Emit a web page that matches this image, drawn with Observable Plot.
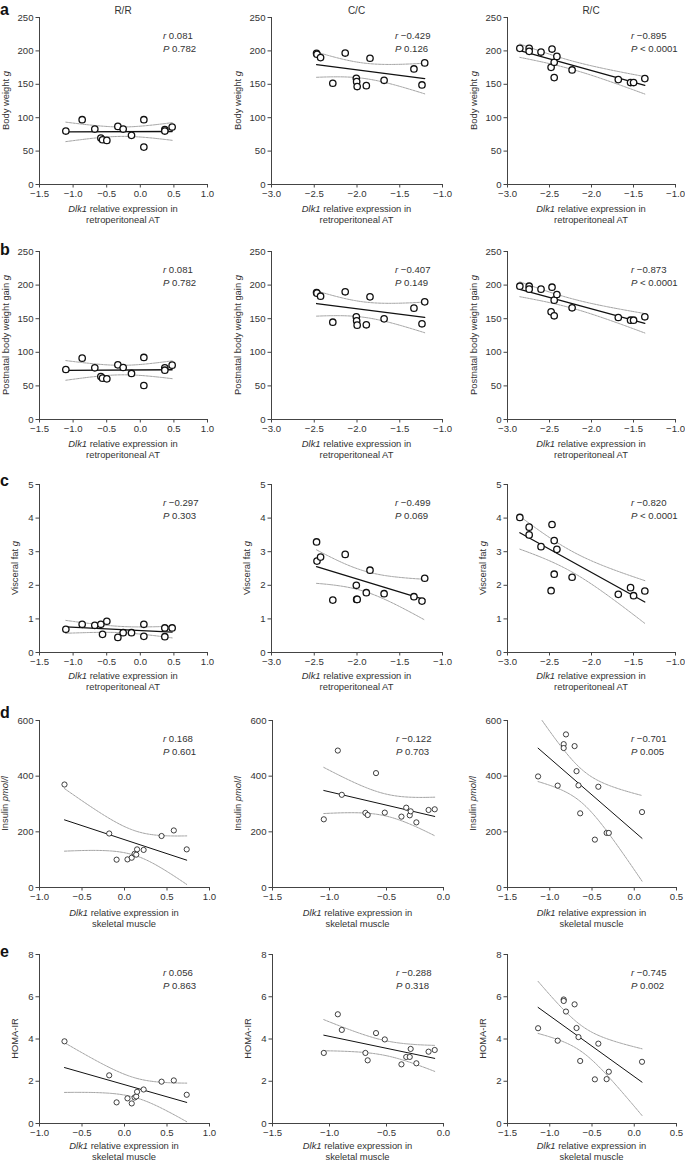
<!DOCTYPE html>
<html><head><meta charset="utf-8">
<script src="https://cdn.jsdelivr.net/npm/d3@7"></script>
<script src="https://cdn.jsdelivr.net/npm/@observablehq/plot@0.6"></script>
<style>
body{margin:0;background:#fff;}
#fig{position:relative;width:685px;height:1163px;font-family:"Liberation Sans",Arial,Helvetica,sans-serif;color:#333;overflow:hidden;background:#fff}
#fig svg{position:absolute;overflow:visible}
</style></head><body><div id="fig"></div>
<script>
// ---------- data ----------
const groups = ["R/R", "C/C", "R/C"];
const panelLetters = ["a", "b", "c", "d", "e"];

// Dlk1 relative expression in retroperitoneal AT (rows a–c)
const rrAT = [-1.108, -0.865, -0.677, -0.587, -0.562, -0.498, -0.334, -0.255, -0.131, 0.053, 0.053, 0.365, 0.365, 0.474];
const ccAT = [-2.473, -2.468, -2.426, -2.283, -2.138, -2.008, -2.004, -1.998, -1.891, -1.848, -1.683, -1.334, -1.240, -1.208];
const rcAT = [-2.853, -2.742, -2.742, -2.601, -2.470, -2.481, -2.444, -2.412, -2.444, -2.231, -1.681, -1.535, -1.499, -1.365];

const bodyWeightRR = [80, 97, 83, 69.6, 67, 66, 87, 83, 73.6, 97, 56, 82, 80, 86];
const bodyWeightCC = [196.3, 195, 190, 151.6, 196.8, 159, 154, 146.6, 148, 189, 156, 173, 149, 182];
const bodyWeightRC = [203.8, 203.8, 199.3, 198.3, 202.8, 175.4, 182.9, 191.8, 160, 171.5, 157, 152.6, 152.6, 158.5];

const weightGainRR = [74.4, 91.3, 76.9, 64, 61.5, 60.5, 81.3, 77.4, 68.5, 92.3, 50.6, 76.9, 73.4, 80.9];
const weightGainCC = [189, 188, 183.5, 144.8, 190, 152.8, 146.8, 140.4, 140.9, 182.5, 149.8, 165.7, 142.4, 175.1];
const weightGainRC = [198.4, 198.4, 194, 194, 196.9, 160.2, 177.6, 186, 154.3, 166.2, 151.8, 147.8, 147.8, 152.8];

const visceralFatRR = [0.69, 0.84, 0.81, 0.84, 0.54, 0.93, 0.45, 0.59, 0.59, 0.84, 0.48, 0.73, 0.47, 0.73];
const visceralFatCC = [3.29, 2.72, 2.84, 1.56, 2.92, 2.00, 1.58, 1.58, 1.78, 2.45, 1.75, 1.66, 1.53, 2.21];
const visceralFatRC = [4.02, 3.73, 3.50, 3.15, 3.81, 1.84, 3.33, 3.07, 2.33, 2.24, 1.73, 1.93, 1.69, 1.83];

// Dlk1 relative expression in skeletal muscle (rows d–e)
const rrSM = [-0.706, -0.18, -0.093, 0.035, 0.085, 0.119, 0.138, 0.148, 0.225, 0.436, 0.58, 0.732];
const ccSM = [-1.05, -0.927, -0.892, -0.685, -0.665, -0.592, -0.515, -0.369, -0.327, -0.296, -0.288, -0.238, -0.131, -0.077];
const rcSM = [-1.138, -0.906, -0.835, -0.835, -0.808, -0.706, -0.683, -0.66, -0.64, -0.466, -0.425, -0.327, -0.301, 0.092];

const insulinRR = [370, 194, 100, 101, 107, 121, 118, 137, 135, 185, 205, 137];
const insulinCC = [245, 492, 333, 268, 260.5, 411, 269, 254.6, 286.8, 259.3, 273.7, 234, 278.5, 281];
const insulinRC = [399, 366, 515, 501, 550, 508, 418, 367, 266.5, 172, 362, 196, 196, 271];

const homaRR = [3.89, 2.28, 1.00, 1.19, 0.95, 1.23, 1.28, 1.50, 1.61, 1.98, 2.04, 1.36];
const homaCC = [3.34, 5.17, 4.43, 3.34, 2.99, 4.28, 3.98, 2.80, 3.15, 3.15, 3.53, 2.85, 3.40, 3.48];
const homaRC = [4.51, 3.92, 5.87, 5.80, 5.30, 5.64, 4.52, 4.09, 2.96, 2.09, 3.78, 2.10, 2.45, 2.92];

// statistics printed on each panel [r, P]
const statsA = [["0.081", "0.782"], ["\u22120.429", "0.126"], ["\u22120.895", "< 0.0001"]];
const statsB = [["0.081", "0.782"], ["\u22120.407", "0.149"], ["\u22120.873", "< 0.0001"]];
const statsC = [["\u22120.297", "0.303"], ["\u22120.499", "0.069"], ["\u22120.820", "< 0.0001"]];
const statsD = [["0.168", "0.601"], ["\u22120.122", "0.703"], ["\u22120.701", "0.005"]];
const statsE = [["0.056", "0.863"], ["\u22120.288", "0.318"], ["\u22120.745", "0.002"]];

// axis labels
const yLabels = [["Body weight ", "g"], ["Postnatal body weight gain ", "g"], ["Visceral fat ", "g"], ["Insulin ", "pmol/l"], ["HOMA-IR", ""]];
const xLabelAT = ["retroperitoneal AT"];
const xLabelSM = ["skeletal muscle"];

// scales
const yDomains = [[0, 250], [0, 250], [0, 5], [0, 600], [0, 8]];
const yTicks = [[0, 50, 100, 150, 200, 250], [0, 50, 100, 150, 200, 250], [0, 1, 2, 3, 4, 5], [0, 200, 400, 600], [0, 2, 4, 6, 8]];
const xDomainsAT = [[-1.5, 1.0], [-3.0, -1.0], [-3.0, -1.0]];
const xDomainsSM = [[-1.0, 1.0], [-1.5, 0.0], [-1.5, 0.5]];

// ---------- assemble ----------
const rows = [
  {xs: [rrAT, ccAT, rcAT], ys: [bodyWeightRR, bodyWeightCC, bodyWeightRC], stats: statsA, xd: xDomainsAT, xl: xLabelAT},
  {xs: [rrAT, ccAT, rcAT], ys: [weightGainRR, weightGainCC, weightGainRC], stats: statsB, xd: xDomainsAT, xl: xLabelAT},
  {xs: [rrAT, ccAT, rcAT], ys: [visceralFatRR, visceralFatCC, visceralFatRC], stats: statsC, xd: xDomainsAT, xl: xLabelAT},
  {xs: [rrSM, ccSM, rcSM], ys: [insulinRR, insulinCC, insulinRC], stats: statsD, xd: xDomainsSM, xl: xLabelSM},
  {xs: [rrSM, ccSM, rcSM], ys: [homaRR, homaCC, homaRC], stats: statsE, xd: xDomainsSM, xl: xLabelSM}
];

// layout (pixels)
const colLeft = [0, 228, 456];
const rowTop = [0, 235, 465, 695, 925];
const mTop = [17, 16, 19, 25, 29];
const plotH = [167, 168, 168, 167, 169];
const mLeftAT = [39, 43, 51], plotWAT = [168, 171, 168];
const mLeftSM = [39, 44, 51], plotWSM = [170, 171, 169];
const yLabelOff = [33, 33, 24, 34, 24];
const xLab1 = [25, 25, 24, 26, 23];
const xLab2 = [36, 36, 35, 37, 34];
const letterBase = [14.6, 255, 486, 718, 957];

const T975 = {9: 2.262, 10: 2.228, 11: 2.201, 12: 2.179, 13: 2.160, 14: 2.145};
function band(xs, ys) {
  const n = xs.length, mx = d3.mean(xs), my = d3.mean(ys);
  let sxx = 0, sxy = 0;
  for (let i = 0; i < n; i++) { sxx += (xs[i] - mx) ** 2; sxy += (xs[i] - mx) * (ys[i] - my); }
  const b = sxy / sxx, a = my - b * mx;
  let sse = 0;
  for (let i = 0; i < n; i++) sse += (ys[i] - a - b * xs[i]) ** 2;
  const s = Math.sqrt(sse / (n - 2)), t = T975[n - 2];
  const [x0, x1] = d3.extent(xs);
  return d3.range(0, 81).map(k => {
    const x = x0 + (x1 - x0) * k / 80, yh = a + b * x;
    const h = t * s * Math.sqrt(1 / n + (x - mx) ** 2 / sxx);
    return {x, lo: yh - h, hi: yh + h};
  });
}

const fig = document.getElementById("fig");
const FONT = '"Liberation Sans", Arial, Helvetica, sans-serif';
const fmt1 = d3.format(".1f");
const fmtY = d3.format("~g");

rows.forEach((row, ri) => {
  const small = ri >= 3;
  for (let ci = 0; ci < 3; ci++) {
    const mL = small ? mLeftSM[ci] : mLeftAT[ci];
    const pW = small ? plotWSM[ci] : plotWAT[ci];
    const mR = 10, mB = 45;
    const W = mL + pW + mR, H = mTop[ri] + plotH[ri] + mB;
    const xs = row.xs[ci], ys = row.ys[ci];
    const data = xs.map((x, i) => ({x, y: ys[i]}));
    const bd = band(xs, ys);
    const xd = row.xd[ci];
    const xt = d3.range(Math.round(xd[0] * 2), Math.round(xd[1] * 2) + 1).map(v => v / 2);
    const svg = Plot.plot({
      width: W, height: H,
      marginLeft: mL, marginRight: mR, marginTop: mTop[ri], marginBottom: mB,
      style: {fontFamily: FONT, fontSize: "9.6px", color: "#333", background: "transparent", overflow: "visible"},
      x: {domain: xd},
      y: {domain: yDomains[ri]},
      marks: [
        Plot.line(bd, {x: "x", y: "lo", stroke: "#8a8a8a", strokeWidth: 0.8, strokeDasharray: "2.5,1", clip: true}),
        Plot.line(bd, {x: "x", y: "hi", stroke: "#8a8a8a", strokeWidth: 0.8, strokeDasharray: "2.5,1", clip: true}),
        Plot.linearRegressionY(data, {x: "x", y: "y", ci: 0, stroke: "#111", strokeWidth: small ? 1.0 : 1.3}),
        Plot.dot(data, {x: "x", y: "y", r: small ? 2.6 : 3.2, stroke: "#111", strokeWidth: small ? 0.8 : 1.3, fill: "white"}),
        Plot.ruleX([xd[0]], {stroke: "#444", strokeWidth: 1}),
        Plot.ruleY([yDomains[ri][0]], {stroke: "#444", strokeWidth: 1}),
        Plot.axisX({ticks: xt, tickFormat: fmt1, tickSize: 3.5, tickPadding: 2, label: null, stroke: "#444"}),
        Plot.axisY({ticks: yTicks[ri], tickFormat: fmtY, tickSize: 3.5, tickPadding: 2.5, label: null, stroke: "#444"})
      ]
    });
    svg.style.left = colLeft[ci] + "px";
    svg.style.top = rowTop[ri] + "px";
    fig.appendChild(svg);
    const s = d3.select(svg);
    const cx = mL + pW / 2, bottom = mTop[ri] + plotH[ri];

    // column title
    if (ri === 0) {
      s.append("text").attr("x", cx).attr("y", 13.5).attr("text-anchor", "middle")
        .attr("font-size", 10).attr("fill", "#333").text(groups[ci]);
    }
    // panel letter
    if (ci === 0) {
      s.append("text").attr("x", 0).attr("y", letterBase[ri] - rowTop[ri]).attr("text-anchor", "start")
        .attr("font-size", 16).attr("font-weight", "bold").attr("fill", "#111").text(panelLetters[ri]);
    }
    // y label
    const yl = s.append("text")
      .attr("transform", `translate(${mL - yLabelOff[ri]},${mTop[ri] + plotH[ri] / 2}) rotate(-90)`)
      .attr("text-anchor", "middle").attr("dy", "0.35em").attr("font-size", 9.4).attr("fill", "#333");
    yl.append("tspan").text(yLabels[ri][0]);
    if (yLabels[ri][1]) yl.append("tspan").attr("font-style", "italic").text(yLabels[ri][1]);

    // x label (two lines)
    const l1 = s.append("text").attr("x", cx).attr("y", bottom + xLab1[ri] + 3.3)
      .attr("text-anchor", "middle").attr("font-size", 9.4).attr("fill", "#333");
    l1.append("tspan").attr("font-style", "italic").text("Dlk1");
    l1.append("tspan").text(" relative expression in");
    s.append("text").attr("x", cx).attr("y", bottom + xLab2[ri] + 3.3)
      .attr("text-anchor", "middle").attr("font-size", 9.4).attr("fill", "#333").text(row.xl[0]);

    // stats
    const sx = mL + 124, st = row.stats[ci];
    const t1 = s.append("text").attr("x", sx).attr("y", mTop[ri] + 22).attr("text-anchor", "start")
      .attr("font-size", 9.6).attr("fill", "#333");
    t1.append("tspan").attr("font-style", "italic").text("r");
    t1.append("tspan").text(" " + st[0]);
    const t2 = s.append("text").attr("x", sx).attr("y", mTop[ri] + 35).attr("text-anchor", "start")
      .attr("font-size", 9.6).attr("fill", "#333");
    t2.append("tspan").attr("font-style", "italic").text("P");
    t2.append("tspan").text(" " + st[1]);
  }
});
</script></body></html>
